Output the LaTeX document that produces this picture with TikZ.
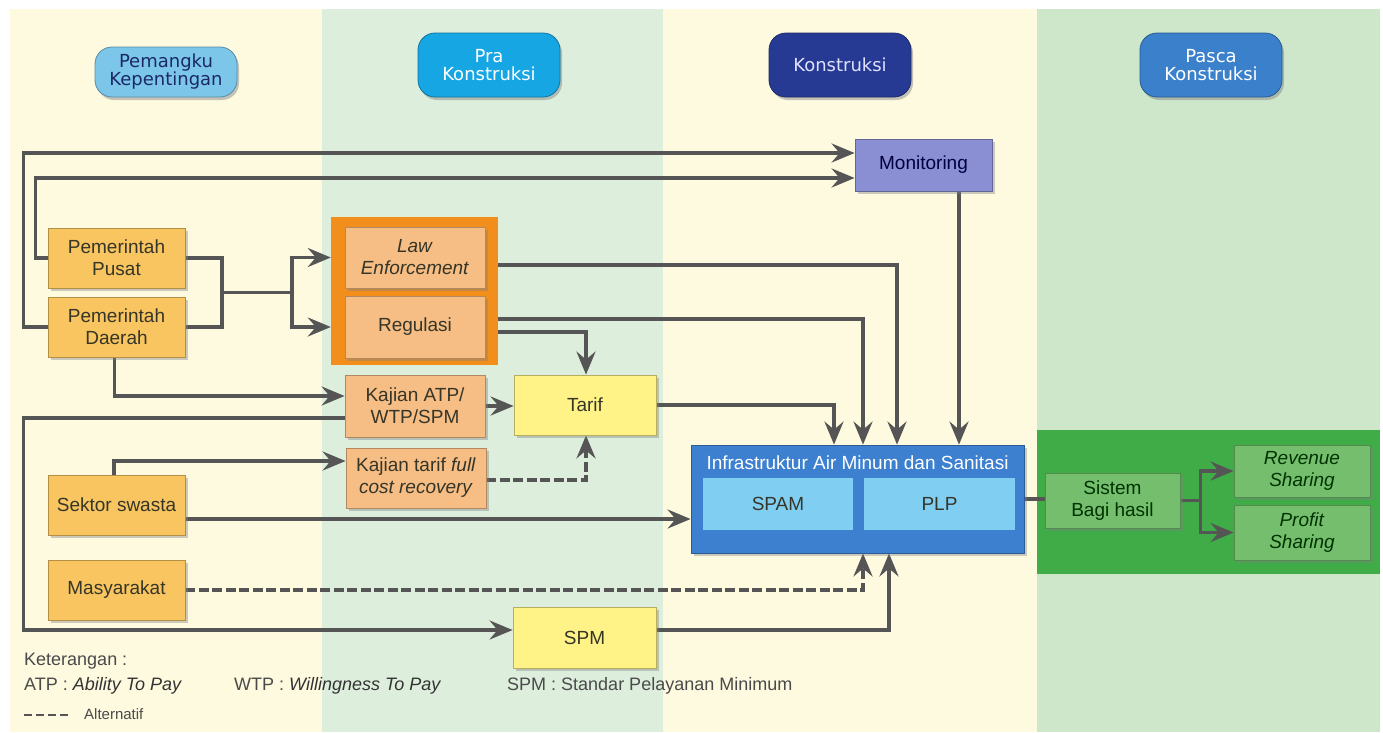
\documentclass[tikz,border=0pt]{standalone}
\usepackage{fontspec}
\setmainfont{Liberation Sans}
\newfontfamily\hdrfont{DejaVu Sans}
\usetikzlibrary{arrows.meta,calc,shadows}

\definecolor{bandY}{HTML}{FEFADF}
\definecolor{bandG}{HTML}{DDEEDC}
\definecolor{bandP}{HTML}{CEE7CB}
\definecolor{gold}{HTML}{F8C560}
\definecolor{peach}{HTML}{F6BD84}
\definecolor{frameO}{HTML}{F18E1C}
\definecolor{lemon}{HTML}{FFF286}
\definecolor{lilac}{HTML}{8A8ED2}
\definecolor{infraB}{HTML}{3D80CF}
\definecolor{skyB}{HTML}{80CFF3}
\definecolor{panelG}{HTML}{40AC48}
\definecolor{leafG}{HTML}{74BE6E}
\definecolor{wire}{HTML}{555555}
\definecolor{txt}{HTML}{353528}
\definecolor{legendT}{HTML}{4A4A4A}
\definecolor{pillA}{HTML}{7CC6EA}
\definecolor{pillB}{HTML}{16A6E3}
\definecolor{pillC}{HTML}{263A93}
\definecolor{pillD}{HTML}{3A80CB}

\pgfdeclarelayer{bands}
\pgfdeclarelayer{links}
\pgfsetlayers{bands,links,main}

\tikzset{
  x=1pt, y=-1pt,
  nodefont/.style={font=\fontsize{19}{22}\selectfont},
  box/.style={nodefont, draw=#1!72!black, line width=0.8pt, fill=#1,
    align=center, text=txt, inner sep=2pt,
    drop shadow={shadow xshift=3pt, shadow yshift=-3pt, opacity=0.4}},
  pill/.style={draw=#1!70!black, line width=0.8pt, fill=#1, rounded corners=17pt,
    align=center, inner sep=2pt, minimum width=142pt,
    font=\hdrfont\fontsize{18}{21}\selectfont,
    drop shadow={shadow xshift=2pt, shadow yshift=-3pt, opacity=0.45}},
  wirebase/.style={draw=wire, line width=3.6pt},
  conn/.style={wirebase, -{Stealth[length=23pt, width=19pt, inset=8pt]}},
  altconn/.style={conn, dash pattern=on 10pt off 3.5pt},
  plain/.style={wirebase},
  legendtext/.style={anchor=west, text=legendT, font=\fontsize{18}{21}\selectfont, inner sep=0pt}
}

\begin{document}
\begin{tikzpicture}
\useasboundingbox (0,0) rectangle (1383,732);

% column headers
\node[pill=pillA, text=pillC!70!black, minimum height=50pt] (hPem) at (166,72) {Pemangku\\[-3pt]Kepentingan};
\node[pill=pillB, text=white, minimum height=64pt] (hPra) at (489,65) {Pra\\[-3pt]Konstruksi};
\node[pill=pillC, text=white!88!blue, minimum height=64pt] (hKon) at (840,65) {Konstruksi};
\node[pill=pillD, text=white, minimum height=64pt] (hPas) at (1211,65) {Pasca\\[-3pt]Konstruksi};

% stakeholders
\node[box=gold, minimum width=137pt, minimum height=60pt] (pusat) at (116.5,258) {Pemerintah\\Pusat};
\node[box=gold, minimum width=137pt, minimum height=60pt] (daerah) at (116.5,327) {Pemerintah\\Daerah};
\node[box=gold, minimum width=137pt, minimum height=60pt] (swasta) at (116.5,505) {Sektor swasta};
\node[box=gold, minimum width=137pt, minimum height=60pt] (masy) at (116.5,590) {Masyarakat};

% column bands, the green panel and the orange frame sit behind everything
\begin{pgfonlayer}{bands}
  \fill[white] (0,0) rectangle (1383,732);
  \fill[bandY] (10,9) rectangle (322,732);
  \fill[bandG] (322,9) rectangle (663,732);
  \fill[bandY] (663,9) rectangle (1037,732);
  \fill[bandP] (1037,9) rectangle (1380,732);
  \node[fill=panelG, minimum width=343pt, minimum height=144pt, inner sep=0pt] (gpanel) at (1208.5,502) {};
  \node[fill=frameO, minimum width=167pt, minimum height=148pt, inner sep=0pt] (frame) at (414.5,291) {};
\end{pgfonlayer}

% pre-construction
\node[box=peach, minimum width=140pt, minimum height=61pt] (law) at (415,257.5) {\textit{Law}\\\textit{Enforcement}};
\node[box=peach, minimum width=140pt, minimum height=62pt] (reg) at (415,327) {Regulasi};
\node[box=peach, minimum width=140pt, minimum height=62pt] (katp) at (415,406) {Kajian ATP/\\WTP/SPM};
\node[box=peach, minimum width=140pt, minimum height=60pt] (ktarif) at (416,478) {Kajian tarif \textit{full}\\\textit{cost recovery}};
\node[box=lemon, minimum width=142pt, minimum height=60pt] (tarif) at (585,405) {Tarif};
\node[box=lemon, minimum width=143pt, minimum height=61pt] (spm) at (584.5,637.5) {SPM};

% construction
\node[box=lilac, text=black!75!blue, minimum width=137pt, minimum height=52pt] (mon) at (923.5,165) {Monitoring};
\node[box=infraB, minimum width=333pt, minimum height=108pt] (infra) at (857.5,499) {};
\node[nodefont, text=white, inner sep=0pt] (infratitle) at (857.5,463) {Infrastruktur Air Minum dan Sanitasi};
\node[nodefont, fill=skyB, text=txt, minimum width=150pt, minimum height=52pt, inner sep=0pt] (spam) at (778,504) {SPAM};
\node[nodefont, fill=skyB, text=txt, minimum width=151pt, minimum height=52pt, inner sep=0pt] (plp) at (939.5,504) {PLP};

% post-construction
\node[box=leafG, text=black!80!green, minimum width=135pt, minimum height=55pt] (sistem) at (1112.5,500.5) {Sistem\\Bagi hasil};
\node[box=leafG, text=black!80!green, minimum width=136pt, minimum height=52pt] (rev) at (1302,471) {\textit{Revenue}\\\textit{Sharing}};
\node[box=leafG, text=black!80!green, minimum width=136pt, minimum height=55pt] (prof) at (1302,532.5) {\textit{Profit}\\\textit{Sharing}};

% connectors
\begin{pgfonlayer}{links}
  % government to monitoring
  \draw[conn] (daerah.west) -- ++(-24,0) |- ($(mon.west)+(0,-12)$);
  \draw[conn] (pusat.west) -- ++(-12,0) |- ($(mon.west)+(0,13)$);
  % government to law enforcement and regulation
  \coordinate (gj) at (222,292.5);
  \coordinate (gs) at (292,292.5);
  \draw[plain] (pusat.east) -| (gj) |- (daerah.east);
  \draw[plain] (gj) -- (gs);
  \draw[conn] (gs) |- (law.west -| frame.west);
  \draw[conn] (gs) |- (reg.west -| frame.west);
  % regional government to ATP/WTP study
  \draw[conn] ($(daerah.south)+(-2,0)$) |- ($(katp.west)+(0,-10)$);
  % instruments to infrastructure
  \draw[conn] ($(law.east -| frame.east)+(0,7.5)$) -| ($(infra.north)+(39.5,0)$);
  \draw[conn] ($(reg.east -| frame.east)+(0,-8)$) -| ($(infra.north)+(5.5,0)$);
  \draw[conn] ($(reg.east -| frame.east)+(0,5)$) -| ($(tarif.north)+(1,0)$);
  \draw[conn] (katp.east) -- (tarif.west |- katp.east);
  \draw[conn] (tarif.east) -| ($(infra.north)+(-23.5,0)$);
  \draw[conn] ($(mon.south)+(35.5,0)$) -- ($(infra.north)+(101.5,0)$);
  % ATP/WTP study to SPM
  \draw[conn] ($(katp.west)+(0,12)$) -- ++(-321,0) |- ($(spm.west)+(0,-7.5)$);
  % private sector
  \draw[conn] ($(swasta.north)+(-2.5,0)$) |- ($(ktarif.west)+(0,-17)$);
  \draw[altconn] ($(ktarif.east)+(0,2)$) -| ($(tarif.south)+(1,0)$);
  \draw[conn] ($(swasta.east)+(0,14)$) coordinate (sw) -- (sw -| infra.west);
  % community and service standard
  \draw[altconn] (masy.east) -| ($(infra.south)+(5.5,0)$);
  \draw[conn] ($(spm.east)+(0,-7.5)$) -| ($(infra.south)+(31.5,0)$);
  % revenue split
  \draw[plain] (infra.east) -- (sistem.west |- infra.east);
  \draw[plain] (sistem.east) -- ++(20,0) coordinate (sj);
  \draw[conn] (sj) |- (rev.west);
  \draw[conn] (sj) |- (prof.west);
\end{pgfonlayer}

% legend
\node[legendtext] (lk) at (24,661) {Keterangan :};
\node[legendtext] (latp) at (24,686) {ATP : \textit{\color{black!80}Ability To Pay}};
\node[legendtext] (lwtp) at (234,686) {WTP : \textit{\color{black!80}Willingness To Pay}};
\node[legendtext] (lspm) at (507,686) {SPM : Standar Pelayanan Minimum};
\coordinate (la) at (24,715);
\coordinate (lb) at (71,715);
\draw[draw=wire, line width=2.5pt, dash pattern=on 8pt off 4pt] (la) -- (lb);
\node[legendtext, font=\fontsize{15}{18}\selectfont] (lalt) at (84,714) {Alternatif};
\end{tikzpicture}
\end{document}
